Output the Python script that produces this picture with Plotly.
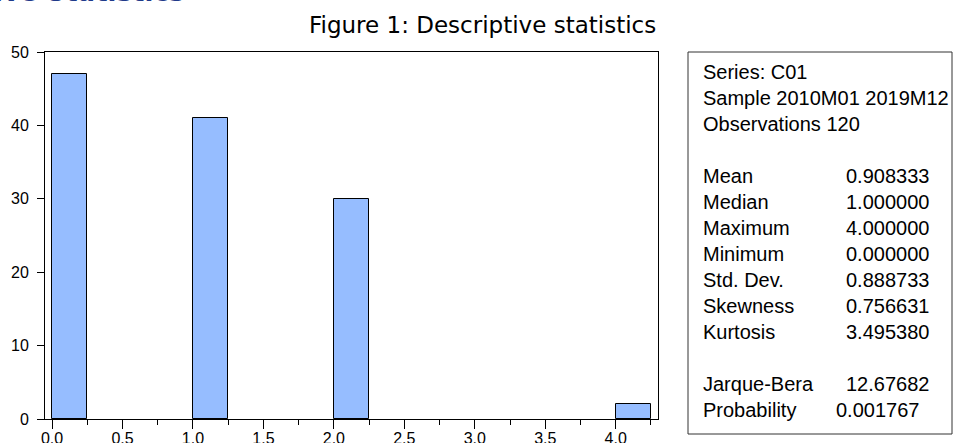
import plotly.graph_objects as go

# ---------------- data ----------------
bin_starts = [0.0, 1.0, 2.0, 4.0]
counts = [47, 41, 30, 2]
bin_width = 0.25

x_tick_vals = [0.0, 0.5, 1.0, 1.5, 2.0, 2.5, 3.0, 3.5, 4.0]
x_tick_labels = ["0.0", "0.5", "1.0", "1.5", "2.0", "2.5", "3.0", "3.5", "4.0"]
y_tick_vals = [0, 10, 20, 30, 40, 50]

header_lines = ["Series: C01", "Sample 2010M01 2019M12", "Observations 120"]
stat_names = ["Mean", "Median", "Maximum", "Minimum", "Std. Dev.", "Skewness", "Kurtosis"]
stat_values = ["0.908333", "1.000000", "4.000000", "0.000000", "0.888733", "0.756631", "3.495380"]
test_names = ["Jarque-Bera", "Probability"]
test_values = ["12.67682", "0.001767"]

title_text = "Figure 1: Descriptive statistics"
heading_text = "2. Descriptive Statistics"

# ---------------- layout geometry ----------------
W, H = 954, 443
L, T, R, B = 45, 52, 658, 419          # plot area edges in pixels
PW, PH = R - L, B - T


def px_x(px):
    return (px - L) / PW


def px_y(py):
    return (B - py) / PH


fig = go.Figure()
fig.add_trace(go.Bar(
    x=bin_starts, y=counts, width=bin_width, offset=0,
    marker=dict(color="#96BDFF", line=dict(color="#000000", width=1)),
    showlegend=False, hoverinfo="x+y",
))

axis_font = dict(family="Liberation Sans, Arial, sans-serif", size=16, color="#000000")
stat_font = dict(family="Liberation Sans, Arial, sans-serif", size=20, color="#000000")

fig.update_layout(
    width=W, height=H,
    margin=dict(l=L, r=W - R, t=T, b=H - B, pad=0, autoexpand=False),
    paper_bgcolor="white", plot_bgcolor="white",
    bargap=0,
    xaxis=dict(
        range=[-0.05, 4.3], tickmode="array", tickvals=x_tick_vals, ticktext=x_tick_labels,
        ticks="outside", ticklen=9, tickwidth=1, tickcolor="#000000",
        ticklabelstandoff=-4, automargin=False,
        minor=dict(dtick=0.25, tick0=0, ticks="outside", ticklen=5, tickwidth=1, tickcolor="#000000"),
        showline=True, linecolor="#000000", linewidth=1, mirror=True,
        showgrid=False, zeroline=False, tickfont=axis_font, fixedrange=True,
    ),
    yaxis=dict(
        range=[0, 50], tickmode="array", tickvals=y_tick_vals,
        ticks="outside", ticklen=7, tickwidth=1, tickcolor="#000000",
        ticklabelstandoff=5, automargin=False,
        showline=True, linecolor="#000000", linewidth=1, mirror=True,
        showgrid=False, zeroline=False, tickfont=axis_font, fixedrange=True,
    ),
)

annotations = []
# cut-off section heading at the very top-left
annotations.append(dict(
    text="<b>" + heading_text + "</b>", xref="paper", yref="paper",
    x=px_x(186), y=px_y(9), xanchor="right", yanchor="bottom", showarrow=False,
    font=dict(family="DejaVu Sans, Verdana, sans-serif", size=26, color="#1F3A8A"),
))
# figure caption
annotations.append(dict(
    text=title_text, xref="paper", yref="paper",
    x=px_x(482), y=px_y(25), xanchor="center", yanchor="middle", showarrow=False,
    font=dict(family="DejaVu Sans, Verdana, sans-serif", size=23, color="#000000"),
))

# statistics box
row_y0, row_step = 72, 26
label_x, value_right = 701, 930.5
rows = []
for h in header_lines:
    rows.append((h, None))
rows.append(None)
for n, v in zip(stat_names, stat_values):
    rows.append((n, v))
rows.append(None)
for n, v in zip(test_names, test_values):
    rows.append((n, v))

for i, row in enumerate(rows):
    if row is None:
        continue
    name, val = row
    yy = px_y(row_y0 + i * row_step)
    annotations.append(dict(text=name, xref="paper", yref="paper", x=px_x(label_x), y=yy,
                            xanchor="left", yanchor="middle", showarrow=False, font=stat_font))
    if val is not None:
        vr = value_right - 10 if name == "Probability" else value_right
        annotations.append(dict(text=val, xref="paper", yref="paper", x=px_x(vr), y=yy,
                                xanchor="right", yanchor="middle", showarrow=False, font=stat_font))

fig.update_layout(annotations=annotations)
fig.add_shape(type="rect", xref="paper", yref="paper",
              x0=px_x(688), x1=px_x(952), y0=px_y(434), y1=px_y(52),
              line=dict(color="#333333", width=1), fillcolor="rgba(0,0,0,0)", layer="above")

fig.write_html(
    "out.html",
    config={"displayModeBar": False},
    post_script="document.body.style.margin='0';document.body.style.padding='0';"
                "document.body.style.overflow='hidden';"
                "document.documentElement.style.overflow='hidden';",
)
